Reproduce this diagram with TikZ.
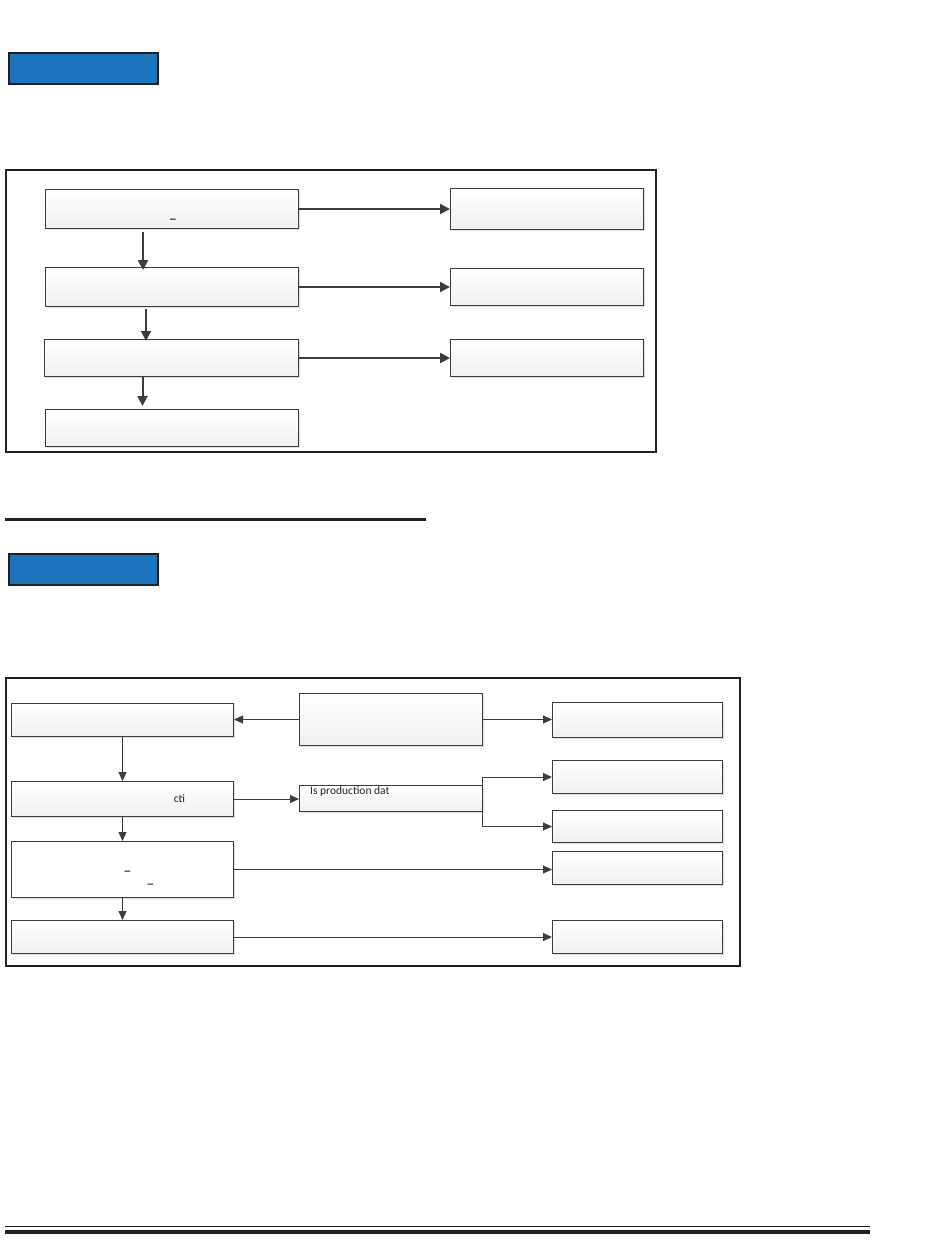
\documentclass[tikz,border=0pt]{standalone}
\usepackage{fontspec}
\setmainfont{Carlito}
\usetikzlibrary{shapes,backgrounds,positioning,shadows,arrows.meta}
\definecolor{headblue}{HTML}{1C75BC}
\definecolor{inkdark}{HTML}{231F20}
\definecolor{arrgray}{HTML}{3D3D3D}
\tikzset{
  headbox/.style={draw=inkdark, line width=2pt, fill=headblue, anchor=north west,
    minimum width=149pt, minimum height=31pt, inner sep=0pt},
  flowbox/.style={draw=arrgray, line width=1pt, anchor=north west, inner sep=0pt,
    top color=white, bottom color=gray!12,
    drop shadow={shadow xshift=1.5pt, shadow yshift=-1.5pt, opacity=.25, fill=gray}},
  bigarr/.style={draw=arrgray, line width=2pt, -{Triangle[length=10pt,width=10pt]}},
  smallarr/.style={draw=arrgray, line width=1pt, -{Triangle[length=9pt,width=8pt]}},
  frag/.style={font=\fontsize{11.5}{13}\selectfont, inner sep=0pt, text=black!85},
  dashfrag/.style={font=\bfseries\fontsize{11.5}{13}\selectfont, inner sep=0pt, text=black},
  frame/.style={draw=inkdark, line width=2pt}
}
\begin{document}
\begin{tikzpicture}[x=1pt,y=-1pt]
            \useasboundingbox (0,0) rectangle (950,1254);

            % first part
            \node[headbox] (head1) at (8,52) {};
            \draw[frame] (6,170) rectangle (656,452);

            \node[flowbox, minimum width=253pt, minimum height=39pt] (a1) at (45,189) {};
            \node[flowbox, minimum width=253pt, minimum height=39pt] (a2) at (45,267) {};
            \node[flowbox, minimum width=254pt, minimum height=37pt] (a3) at (44,339) {};
            \node[flowbox, minimum width=253pt, minimum height=37pt] (a4) at (45,409) {};
            \node[flowbox, minimum width=193pt, minimum height=41pt] (b1) at (450,188) {};
            \node[flowbox, minimum width=193pt, minimum height=37pt] (b2) at (450,268) {};
            \node[flowbox, minimum width=193pt, minimum height=37pt] (b3) at (450,339) {};
            \node[dashfrag] (a1t) at ([xshift=1pt,yshift=-10pt]a1.center) {\_};

            \draw[bigarr] (a1.east) -- (a1.east -| b1.west);
            \draw[bigarr] (a2.east) -- (a2.east -| b2.west);
            \draw[bigarr] (a3.east) -- (a3.east -| b3.west);
            \draw[bigarr] ([xshift=-29pt,yshift=-3pt]a1.south) -- ([xshift=-29pt,yshift=-3pt]a1.south |- a2.north);
            \draw[bigarr] ([xshift=-26pt,yshift=-2pt]a2.south) -- ([xshift=-26pt,yshift=-2pt]a2.south |- a3.north);
            \draw[bigarr] ([xshift=-29pt]a3.south) -- ([xshift=-29pt,yshift=3pt]a3.south |- a4.north);

            \draw[inkdark, line width=3pt] (5,519) -- (426,519);

            % second part
            \node[headbox] (head2) at (8,553) {};
            \draw[frame] (6,678) rectangle (740,966);

            \node[flowbox, minimum width=222pt, minimum height=33pt] (l1) at (11,703) {};
            \node[flowbox, minimum width=222pt, minimum height=35pt] (l2) at (11,781) {};
            \node[flowbox, minimum width=222pt, minimum height=56pt, top color=white, bottom color=white] (l3) at (11,841) {};
            \node[flowbox, minimum width=222pt, minimum height=33pt] (l4) at (11,920) {};
            \node[flowbox, minimum width=183pt, minimum height=52pt] (c1) at (299,693) {};
            \node[flowbox, minimum width=183pt, minimum height=26pt] (c2) at (299,785) {};
            \node[flowbox, minimum width=170pt, minimum height=35pt] (r1) at (552,702) {};
            \node[flowbox, minimum width=170pt, minimum height=33pt] (r2) at (552,760) {};
            \node[flowbox, minimum width=170pt, minimum height=32pt] (r3) at (552,810) {};
            \node[flowbox, minimum width=170pt, minimum height=33pt] (r4) at (552,851) {};
            \node[flowbox, minimum width=170pt, minimum height=33pt] (r5) at (552,920) {};

            \node[frag, anchor=north west] (c2t) at ([xshift=11pt,yshift=-1pt]c2.north west) {Is production dat};
            \node[frag] (l2t) at ([xshift=57pt]l2.center) {cti};
            \node[dashfrag] (l3t1) at ([xshift=5pt,yshift=-2pt]l3.center) {\_};
            \node[dashfrag] (l3t2) at ([xshift=28pt,yshift=-15pt]l3.center) {\_};

            \draw[smallarr] (c1.west) -- (c1.west -| l1.east);
            \draw[smallarr] (c1.east) -- (c1.east -| r1.west);
            \draw[smallarr] (l2.east) -- (l2.east -| c2.west);
            \draw[smallarr] ([xshift=-1pt]c2.east) |- (r2.west);
            \draw[smallarr] ([xshift=-1pt]c2.east) |- (r3.west);
            \draw[smallarr] (l3.east) -- (l3.east -| r4.west);
            \draw[smallarr] (l4.east) -- (l4.east -| r5.west);
            \draw[smallarr] (l1.south) -- (l2.north);
            \draw[smallarr] (l2.south) -- (l3.north);
            \draw[smallarr] (l3.south) -- (l4.north);

            % bottom rule
            \draw[inkdark, line width=1pt] (5,1226) -- (870,1226);
            \draw[inkdark, line width=4pt] (5,1231.5) -- (870,1231.5);
        \end{tikzpicture}
\end{document}
